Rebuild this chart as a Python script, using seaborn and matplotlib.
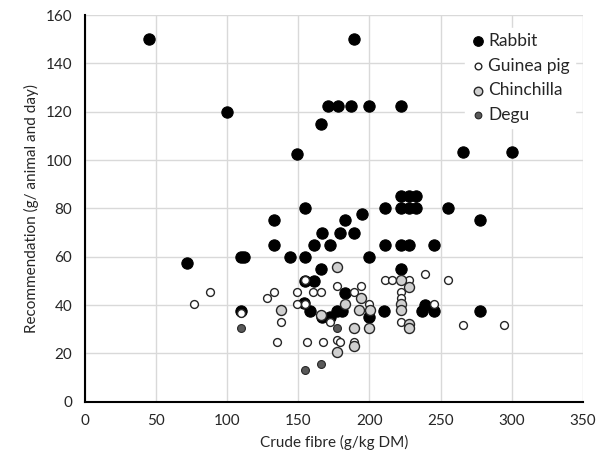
import pandas as pd
import matplotlib
matplotlib.use("Agg")
import matplotlib.pyplot as plt
import seaborn as sns

# Values (crude fibre g/kg DM, recommendation g/animal/day)
rabbit_x = [45, 189, 100, 171, 178, 187, 200, 222, 166, 149, 266, 300,
            222, 228, 233, 155, 211, 222, 228, 233, 255, 133, 183, 278, 195,
            167, 179, 189, 133, 161, 172, 211, 222, 228, 245,
            110, 112, 144, 155, 200, 72, 166, 222, 155, 161, 183,
            110, 158, 177, 181, 210, 237, 245, 278, 239, 154, 172, 167, 200]
rabbit_y = [150, 150, 120, 122.5, 122.5, 122.5, 122.5, 122.5, 115, 102.5, 103.5, 103.5,
            85, 85, 85, 80, 80, 80, 80, 80, 80, 75, 75, 75, 77.5,
            70, 70, 70, 65, 65, 65, 65, 65, 65, 65,
            60, 60, 60, 60, 60, 57.5, 55, 55, 50, 50, 45,
            37.5, 37.5, 37.5, 37.5, 37.5, 37.5, 37.5, 37.5, 40, 41, 35, 35, 35]

guinea_x = [77, 88, 110, 128, 133, 138, 135, 149, 149, 155, 155, 156, 160.5, 166,
            167.5, 172, 177, 177, 179, 189, 194, 200, 189, 211, 216, 228, 222, 222,
            222, 239, 255, 245, 266, 294.5]
guinea_y = [40.5, 45.5, 36.5, 43, 45.5, 33, 24.8, 45.5, 40.5, 50.5, 40.5, 24.8, 45.5, 45.5,
            24.8, 33, 48, 25.5, 24.8, 45.4, 48, 40.6, 24.8, 50.5, 50.5, 50.5, 45.4, 42.9,
            33, 53, 50.5, 40.6, 31.8, 31.8]

chin_x = [138, 166, 177.5, 183, 194, 193, 200.5, 189, 200, 189, 177, 222, 228, 222, 222, 228, 228]
chin_y = [38, 36, 55.6, 40.6, 43, 38, 38, 30.5, 30.5, 23, 20.7, 50.5, 47.3, 40.5, 38, 32, 30.4]

degu_x = [110, 155, 166, 177.5]
degu_y = [30.6, 13.1, 15.6, 30.5]

species = ["Rabbit", "Guinea pig", "Chinchilla", "Degu"]

df = pd.concat([
    pd.DataFrame({"fibre": rabbit_x, "rec": rabbit_y, "species": "Rabbit"}),
    pd.DataFrame({"fibre": guinea_x, "rec": guinea_y, "species": "Guinea pig"}),
    pd.DataFrame({"fibre": chin_x, "rec": chin_y, "species": "Chinchilla"}),
    pd.DataFrame({"fibre": degu_x, "rec": degu_y, "species": "Degu"}),
], ignore_index=True)

sns.set_style("white")
plt.rcParams["font.family"] = ["Lato", "DejaVu Sans"]

fig = plt.figure(figsize=(6.01, 4.72), dpi=100)
ax = fig.add_axes([0.141, 0.149, 0.829, 0.819])

styles = {
    "Rabbit": dict(color="black", edgecolor="black", s=66, linewidth=0.8),
    "Guinea pig": dict(color="white", edgecolor="#262626", s=32, linewidth=1.0),
    "Chinchilla": dict(color="#d0d0d0", edgecolor="#262626", s=52, linewidth=1.0),
    "Degu": dict(color="#595959", edgecolor="#262626", s=32, linewidth=0.8),
}
for sp in species:
    sub = df[df["species"] == sp]
    sns.scatterplot(data=sub, x="fibre", y="rec", ax=ax, label=sp, zorder=3, **styles[sp])

ax.set_xlim(0, 350)
ax.set_ylim(0, 160)
ax.set_xticks(range(0, 351, 50))
ax.set_yticks(range(0, 161, 20))
ax.grid(True, color="#d9d9d9", linewidth=1.0, zorder=0)
ax.set_axisbelow(True)
for side in ["top", "right"]:
    ax.spines[side].set_visible(False)
for side in ["left", "bottom"]:
    ax.spines[side].set_color("black")
    ax.spines[side].set_linewidth(1.5)
ax.tick_params(axis="both", direction="out", length=5, width=1.5, color="black",
               labelsize=11, labelcolor="#262626", pad=4)

ax.set_xlabel("Crude fibre (g/kg DM)", fontsize=11, color="#262626", labelpad=5)
ax.set_ylabel("Recommendation (g/ animal and day)", fontsize=11, color="#262626", labelpad=5)

leg = ax.legend(loc="upper left", bbox_to_anchor=(0.745, 0.99), frameon=True, fontsize=12.5,
                handletextpad=0.05, labelspacing=0.5, borderpad=0.3, handlelength=1.0,
                markerscale=0.85)
leg.get_frame().set_edgecolor("white")
leg.get_frame().set_facecolor("white")
leg.get_frame().set_alpha(1)

fig.savefig("out.png", dpi=100)
